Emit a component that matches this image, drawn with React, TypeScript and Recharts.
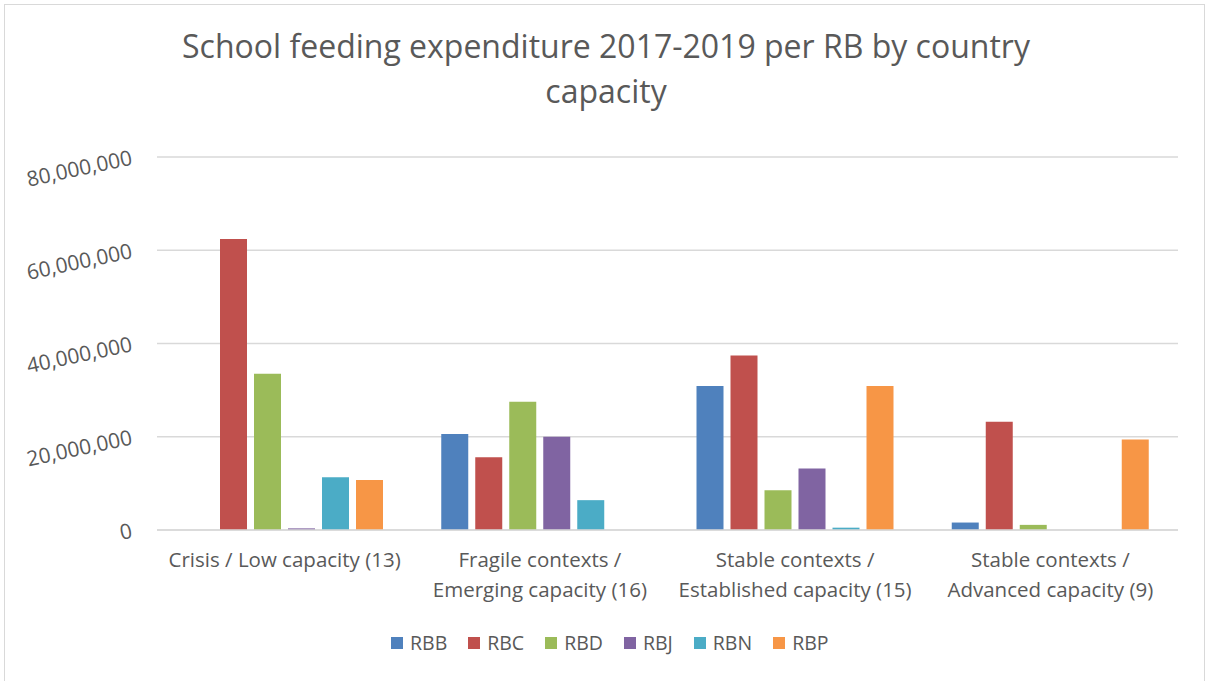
import { BarChart, Bar, XAxis, YAxis, CartesianGrid } from "recharts";

const categories = [
  "Crisis / Low capacity (13)",
  "Fragile contexts / Emerging capacity (16)",
  "Stable contexts / Established capacity (15)",
  "Stable contexts / Advanced capacity (9)",
];

const seriesNames = ["RBB", "RBC", "RBD", "RBJ", "RBN", "RBP"];
const seriesColors = ["#4f81bd", "#c0504d", "#9bbb59", "#8064a2", "#4bacc6", "#f79646"];

const rbb = [0, 20600000, 30900000, 1600000];
const rbc = [62400000, 15600000, 37400000, 23200000];
const rbd = [33500000, 27500000, 8500000, 1100000];
const rbj = [350000, 20000000, 13200000, 0];
const rbn = [11300000, 6400000, 500000, 0];
const rbp = [10700000, 0, 30900000, 19400000];

const yTicks = [0, 20000000, 40000000, 60000000, 80000000];

const seriesValues = [rbb, rbc, rbd, rbj, rbn, rbp];

const data = categories.map((name, i) => {
  const row: Record<string, string | number> = { name };
  seriesNames.forEach((s, j) => {
    row[s] = seriesValues[j][i];
  });
  return row;
});

const FONT = "'Open Sans', 'DejaVu Sans', sans-serif";
const TEXT = "#595959";

function YTick(props: any) {
  const { x, y, payload } = props;
  const label = Number(payload.value).toLocaleString("en-US");
  const ax = x - 17;
  return (
    <text
      x={ax}
      y={y + 2}
      textAnchor="end"
      dominantBaseline="middle"
      fontSize={21}
      fontFamily={FONT}
      fill={TEXT}
      transform={`rotate(-12, ${ax}, ${y + 2})`}
    >
      {label}
    </text>
  );
}

function XTick(props: any) {
  const { x, y, payload } = props;
  const text: string = payload.value;
  const cut = text.indexOf("/ ");
  const lines = text.length > 28 ? [text.slice(0, cut + 1), text.slice(cut + 2)] : [text];
  return (
    <text x={x} y={y} textAnchor="middle" fontSize={20.5} fontFamily={FONT} fill={TEXT}>
      {lines.map((l, i) => (
        <tspan key={i} x={x} y={y + 29 + i * 30}>
          {l}
        </tspan>
      ))}
    </text>
  );
}

export default function App() {
  return (
    <div style={pageStyle}>
      <div style={frameStyle} />
      <div style={titleStyle}>School feeding expenditure 2017-2019 per RB by country capacity</div>
      <BarChart
        width={1208}
        height={681}
        data={data}
        margin={{ top: 157, right: 30, bottom: 71, left: 0 }}
        barCategoryGap={29}
        barGap={7}
      >
        <CartesianGrid vertical={false} stroke="#d9d9d9" strokeWidth={1.5} />
        <XAxis
          dataKey="name"
          height={80}
          axisLine={{ stroke: "#d9d9d9", strokeWidth: 1.5 }}
          tickLine={false}
          interval={0}
          tick={<XTick />}
        />
        <YAxis
          width={157}
          domain={[0, 80000000]}
          ticks={yTicks}
          axisLine={false}
          tickLine={false}
          tick={<YTick />}
        />
        {seriesNames.map((s, i) => (
          <Bar key={s} dataKey={s} fill={seriesColors[i]} isAnimationActive={false} />
        ))}
      </BarChart>
      <div style={legendStyle}>
        {seriesNames.map((s, i) => (
          <div key={s} style={{ display: "flex", alignItems: "center", marginRight: 21 }}>
            <span style={{ width: 12, height: 12, background: seriesColors[i], marginRight: 7 }} />
            <span>{s}</span>
          </div>
        ))}
      </div>
    </div>
  );
}

const pageStyle: React.CSSProperties = {
  position: "fixed",
  left: 0,
  top: 0,
  width: 1208,
  height: 681,
  background: "#fff",
  fontFamily: FONT,
  overflow: "hidden",
};

const frameStyle: React.CSSProperties = {
  position: "absolute",
  left: 4,
  top: 4,
  width: 1201,
  height: 700,
  border: "1.5px solid #d9d9d9",
  boxSizing: "border-box",
};

const titleStyle: React.CSSProperties = {
  position: "absolute",
  left: 156,
  top: 23,
  width: 900,
  textAlign: "center",
  fontSize: 32,
  lineHeight: "45px",
  color: TEXT,
};

const legendStyle: React.CSSProperties = {
  position: "absolute",
  left: 391,
  top: 630,
  display: "flex",
  fontSize: 19.5,
  color: TEXT,
  lineHeight: "26px",
};
